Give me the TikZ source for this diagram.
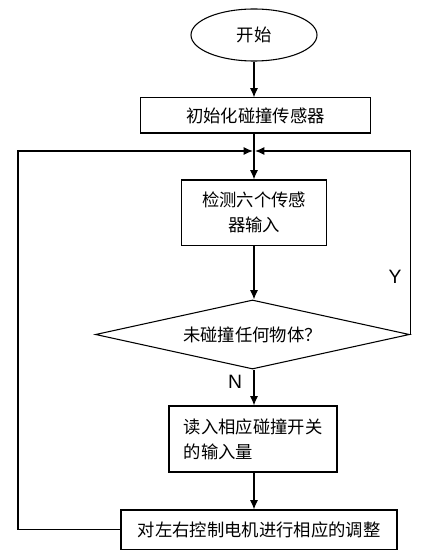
\documentclass[tikz,border=0pt]{standalone}
\usepackage{fontspec}
\setmainfont{Noto Sans CJK SC}
\newfontfamily\ynfont{Liberation Sans}
\usetikzlibrary{arrows.meta,shapes.geometric}

\begin{document}
\begin{tikzpicture}[x=0.75pt,y=-0.75pt,
		every node/.style={font=\fontsize{13}{19}\selectfont, inner sep=0pt},
		stepbox/.style={draw, thick, rectangle},
		flow/.style={thick, -{Latex[length=7pt,width=6pt]}},
		ynlabel/.style={font=\fontsize{14.5}{16}\ynfont}]
			\useasboundingbox (0,0) rectangle (438,556);
			\node [draw, thick, ellipse, minimum width=94.5pt, minimum height=39pt] (start) at (254,35) {开始};
			\node [stepbox, minimum width=173pt, minimum height=26.3pt] (init) at (255.5,115.5) {初始化碰撞传感器};
			\coordinate (merge) at (254,151);
			\node [stepbox, minimum width=108.8pt, minimum height=48.8pt, align=center] (detect) at (254,212.5) {检测六个传感\\器输入};
			\node [draw, thick, diamond, aspect=4.55, minimum width=235.5pt, minimum height=51.8pt] (judge) at (252.5,334.5) {未碰撞任何物体？};
			\node [stepbox, minimum width=126pt, minimum height=49.5pt, align=left] (read) at (253,439) {读入相应碰撞开关\\的输入量};
			\node [stepbox, minimum width=207pt, minimum height=29.3pt] (adjust) at (259,529.5) {对左右控制电机进行相应的调整};
			\coordinate (lft) at (18,151);
			% main flow
			\draw [flow] (start) -- (start |- init.north);
			\draw [thick] (merge |- init.south) -- (merge);
			\draw [flow] (merge) -- (merge |- detect.north);
			\draw [flow] (merge |- detect.south) -- (merge |- judge.north);
			\draw [flow] (merge |- judge.south) -- (merge |- read.north);
			\draw [flow] (merge |- read.south) -- (merge |- adjust.north);
			% loops back
			\draw [flow, shorten >=0.8pt] (judge.east) |- (merge);
			\draw [flow, shorten >=0.8pt] (adjust.west) -| (lft) -- (merge);
			\node [ynlabel] (yes) at (395,277) {Y};
			\node [ynlabel] (no) at (235,382) {N};
		\end{tikzpicture}
\end{document}
